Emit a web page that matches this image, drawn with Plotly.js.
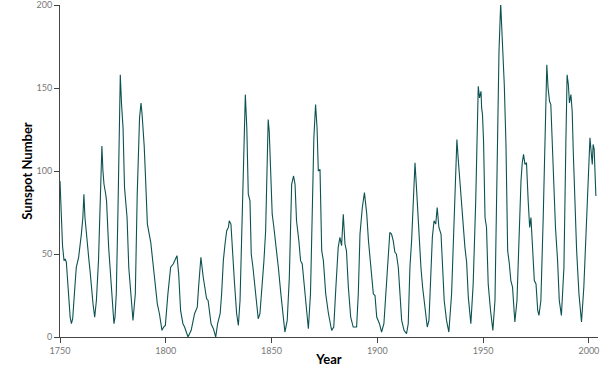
<!DOCTYPE html>
<html>
<head>
<meta charset="utf-8">
<script src="https://cdn.plot.ly/plotly-3.0.1.min.js"></script>
<style>html,body{margin:0;padding:0;background:#fff;}#chart{width:600px;height:367px;}</style>
</head>
<body>
<div id="chart"></div>
<script>
const years = [
1750.0,1750.5,1751.2,1751.9,1752.5,1753.0,1753.6,1754.2,1754.8,1755.4,1756.0,1756.8,1757.7,1758.8,1759.5,1760.1,1760.8,1761.3,1761.8,1762.4,
1763.0,1763.7,1764.2,1764.8,1765.6,1766.4,1767.2,1768.2,1769.0,1769.8,1770.3,1770.8,1771.6,1772.0,1773.0,1774.0,1774.7,1775.5,1776.0,1776.6,
1777.4,1778.0,1778.5,1779.1,1779.8,1780.5,1781.7,1782.5,1783.4,1784.5,1785.6,1786.5,1787.6,1788.3,1788.8,1789.2,1789.8,1790.3,1791.3,1792.9,
1794.4,1796.0,1797.0,1798.2,1799.0,1799.8,1801.0,1802.3,1803.5,1804.3,1805.3,1806.1,1807.0,1808.1,1808.9,1810.5,1812.0,1813.6,1814.9,1815.5,
1816.2,1816.6,1817.7,1818.5,1819.3,1820.0,1821.4,1822.5,1823.6,1824.5,1825.7,1826.4,1827.2,1828.0,1828.8,1829.6,1830.0,1830.8,1831.4,1832.4,
1833.5,1834.3,1835.1,1835.9,1836.7,1837.2,1837.6,1838.3,1839.0,1839.8,1840.4,1841.2,1842.5,1843.7,1844.5,1845.3,1846.4,1847.2,1847.8,1848.4,
1848.9,1849.5,1850.3,1851.0,1852.1,1853.2,1854.4,1855.5,1856.3,1857.4,1858.4,1859.5,1860.4,1861.1,1861.8,1862.9,1863.7,1864.5,1865.5,1866.6,
1867.4,1868.4,1869.2,1870.0,1870.8,1871.5,1872.1,1872.9,1873.7,1874.5,1875.6,1876.9,1878.4,1879.4,1880.4,1881.5,1882.3,1883.1,1883.9,1884.7,
1885.4,1886.3,1887.4,1888.6,1890.2,1891.0,1891.8,1892.9,1893.9,1895.0,1895.8,1896.6,1897.4,1898.1,1898.9,1899.7,1901.0,1902.0,1903.1,1904.3,
1905.1,1905.9,1906.7,1907.5,1908.3,1909.0,1909.9,1910.7,1911.5,1912.6,1913.8,1914.6,1915.4,1916.2,1917.0,1917.8,1918.5,1919.0,1919.8,1920.6,
1921.4,1922.5,1923.6,1924.4,1925.2,1926.0,1926.8,1927.6,1928.3,1929.1,1930.1,1930.9,1931.6,1932.7,1933.8,1935.1,1936.2,1937.1,1937.6,1938.3,
1939.4,1940.6,1941.4,1942.2,1943.0,1944.2,1945.3,1946.5,1947.4,1947.7,1948.3,1949.0,1949.3,1949.7,1950.2,1950.9,1951.6,1952.4,1953.5,1954.6,
1955.6,1956.5,1957.5,1958.3,1959.0,1960.0,1960.8,1961.6,1962.4,1963.1,1963.9,1965.0,1966.0,1966.9,1967.9,1968.5,1969.1,1969.8,1970.5,1971.3,
1972.0,1972.6,1973.4,1974.2,1975.0,1975.8,1976.4,1977.3,1978.4,1979.2,1980.1,1980.7,1981.4,1982.0,1982.8,1983.6,1984.2,1985.2,1986.0,1987.0,
1988.2,1989.1,1989.7,1990.3,1990.8,1991.5,1992.1,1992.6,1993.4,1994.2,1995.3,1996.5,1997.6,1998.6,1999.7,2000.5,2001.3,2001.6,2002.0,2002.5,
2003.3
];
const sunspotNumber = [
94,75,55,46,47,45,32,18,12,8,11,26,42,48,55,62,72,86,72,62,
54,46,40,30,20,12,22,46,76,115,100,92,86,82,54,36,26,8,12,26,
76,125,158,140,126,90,72,42,26,10,26,86,132,141,134,128,115,100,68,57,
40,20,14,4,6,7,26,42,44,46,49,38,16,8,6,0,4,14,18,30,
46,48,36,28,23,22,8,5,0,8,14,26,46,56,64,66,70,68,54,34,
14,7,22,66,106,138,146,126,86,82,50,42,24,11,14,26,46,64,106,131,
124,100,74,67,56,42,26,10,3,10,36,92,97,92,70,58,46,44,30,12,
5,26,66,120,140,126,100,101,52,46,26,14,4,6,30,54,60,55,74,56,
52,30,12,6,6,26,62,78,87,74,58,48,36,26,25,12,8,3,8,30,
50,63,62,58,51,50,42,26,10,4,2,8,42,58,82,105,90,78,62,42,
30,18,6,10,36,60,70,68,78,66,62,36,22,10,3,26,66,106,119,106,
86,66,54,45,24,8,32,82,142,151,144,148,138,134,118,72,66,32,16,4,
22,102,172,201,182,152,116,52,44,34,30,9,22,62,94,105,110,104,105,82,
66,72,50,34,32,16,13,22,72,122,164,150,142,140,112,82,66,46,22,13,
42,116,158,152,141,146,136,112,82,52,26,9,30,62,102,120,108,104,116,113,
85
];
const xTicks = [1750, 1800, 1850, 1900, 1950, 2000];
const yTicks = [0, 50, 100, 150, 200];

const axisFont = {family: 'Lato, "DejaVu Sans", sans-serif', size: 9, color: '#777'};
const titleFont = {family: 'Lato, "DejaVu Sans", sans-serif', size: 13, color: '#000'};

Plotly.newPlot('chart', [{
  x: years, y: sunspotNumber, type: 'scatter', mode: 'lines',
  line: {color: '#0d5252', width: 1.1},
  cliponaxis: false,
  hoverinfo: 'skip'
}], {
  width: 600, height: 367,
  margin: {l: 60, r: 2, t: 5, b: 30, pad: 0},
  paper_bgcolor: '#fff', plot_bgcolor: '#fff',
  showlegend: false,
  xaxis: {
    range: [1750, 2004.3], tickvals: xTicks, ticktext: xTicks.map(String),
    showgrid: false, zeroline: false, showline: true, linecolor: '#444', linewidth: 1,
    ticks: 'outside', ticklen: 5, tickcolor: '#444', tickwidth: 1,
    tickfont: axisFont, ticklabeloverflow: 'allow',
    title: {text: '<b>Year</b>', font: titleFont, standoff: 15}
  },
  yaxis: {
    range: [0, 200], tickvals: yTicks, ticktext: yTicks.map(String),
    showgrid: false, zeroline: false, showline: true, linecolor: '#444', linewidth: 1,
    ticks: 'outside', ticklen: 5, tickcolor: '#444', tickwidth: 1,
    tickfont: axisFont, ticklabeloverflow: 'allow',
    title: {text: '<b>Sunspot Number</b>', font: titleFont, standoff: 0}
  }
}, {displayModeBar: false, staticPlot: true});
</script>
</body>
</html>
